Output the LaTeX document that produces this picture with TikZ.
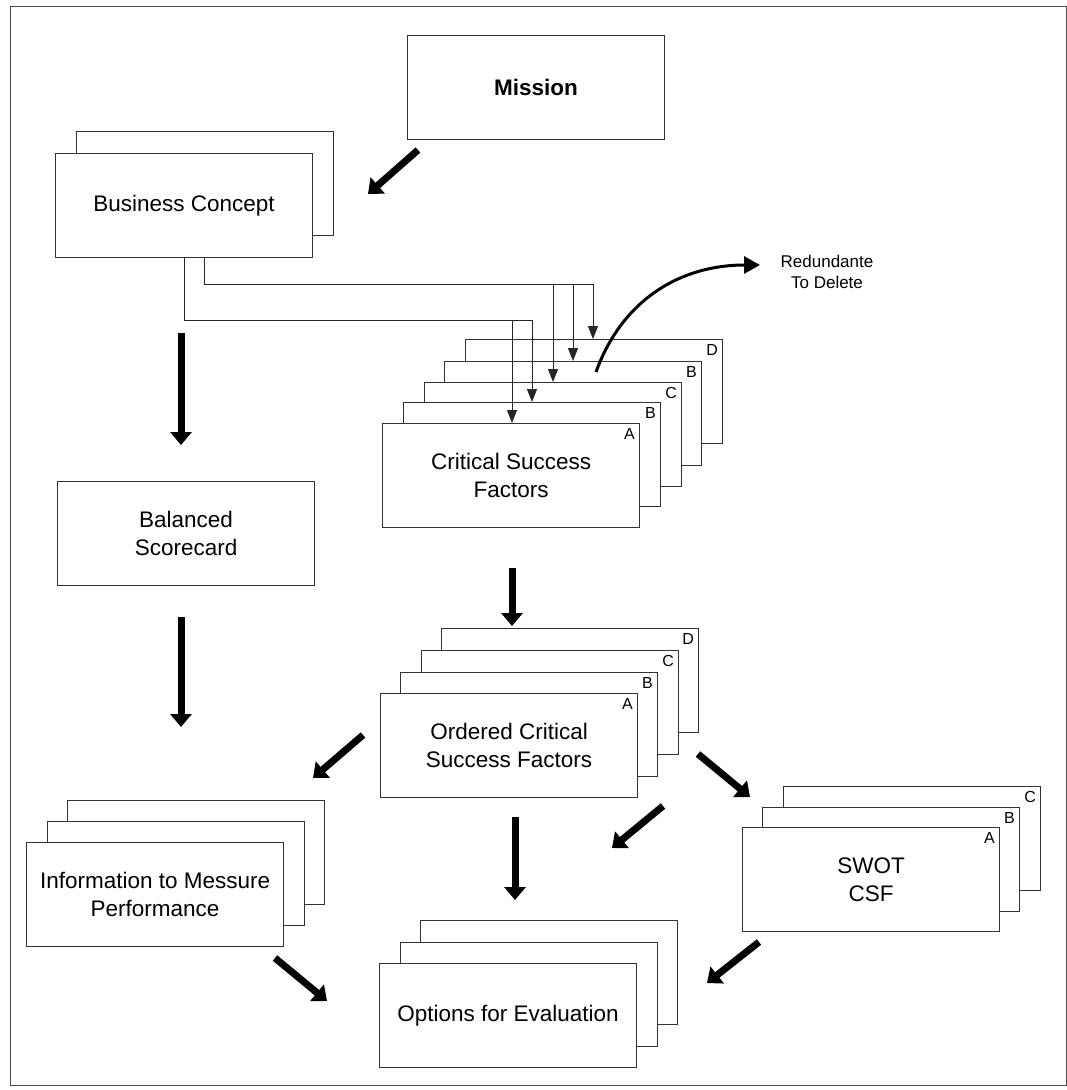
\documentclass[tikz,border=0pt]{standalone}
\usepackage{fontspec}
\setmainfont{Liberation Sans}
\usetikzlibrary{arrows.meta,calc}
\begin{document}
\begin{tikzpicture}[x=1pt,y=-1pt,
  card/.style={draw=black!80, line width=1.1pt, fill=white, minimum width=257pt,
    minimum height=104pt, inner sep=0pt, anchor=north west, align=center,
    font=\fontsize{22.5}{27.5}\selectfont},
  tag/.style={anchor=north east, inner sep=0pt, font=\fontsize{16}{16}\selectfont},
  bigarrow/.style={line width=7pt, -{Triangle[width=21pt,length=13pt]}},
  conn/.style={line width=1pt, draw=black!85, -{Triangle[width=10pt,length=13pt]}},
]
\useasboundingbox (0,0) rectangle (1067,1090);
\fill[white] (0,0) rectangle (1067,1090);
\draw[line width=1pt, black!70] (10,6) rectangle (1066,1085);

% Mission
\node[card, font=\bfseries\fontsize{22.5}{27.5}\selectfont] (mission) at (407,35) {Mission};

% Business concept (two sheets)
\node[card] (bc2) at (76,131) {};
\node[card] (bc) at (55,153) {Business Concept};

% Balanced scorecard
\node[card] (bsc) at (57,481) {Balanced\\Scorecard};

% Critical success factors (five sheets)
\node[card] (csf5) at (465,339) {};
\node[tag] (csf5t) at ($(csf5.north east)+(-5,5)$) {D};
\node[card] (csf4) at (444,361) {};
\node[tag] (csf4t) at ($(csf4.north east)+(-5,5)$) {B};
\node[card] (csf3) at (424,382) {};
\node[tag] (csf3t) at ($(csf3.north east)+(-5,5)$) {C};
\node[card] (csf2) at (403,402) {};
\node[tag] (csf2t) at ($(csf2.north east)+(-5,5)$) {B};
\node[card] (csf1) at (382,423) {Critical Success\\Factors};
\node[tag] (csf1t) at ($(csf1.north east)+(-5,5)$) {A};

% Ordered critical success factors (four sheets)
\node[card] (oc4) at (441,628) {};
\node[tag] (oc4t) at ($(oc4.north east)+(-5,5)$) {D};
\node[card] (oc3) at (421,650) {};
\node[tag] (oc3t) at ($(oc3.north east)+(-5,5)$) {C};
\node[card] (oc2) at (400,672) {};
\node[tag] (oc2t) at ($(oc2.north east)+(-5,5)$) {B};
\node[card] (oc1) at (380,693) {Ordered Critical\\Success Factors};
\node[tag] (oc1t) at ($(oc1.north east)+(-5,5)$) {A};

% Information to measure performance (three sheets)
\node[card] (inf3) at (67,800) {};
\node[card] (inf2) at (47,821) {};
\node[card] (inf1) at (26,842) {Information to Messure\\Performance};

% SWOT (three sheets)
\node[card] (sw3) at (783,786) {};
\node[tag] (sw3t) at ($(sw3.north east)+(-5,5)$) {C};
\node[card] (sw2) at (762,807) {};
\node[tag] (sw2t) at ($(sw2.north east)+(-5,5)$) {B};
\node[card] (sw1) at (742,827) {SWOT\\CSF};
\node[tag] (sw1t) at ($(sw1.north east)+(-5,5)$) {A};

% Options for evaluation (three sheets)
\node[card] (op3) at (420,920) {};
\node[card] (op2) at (400,942) {};
\node[card] (op1) at (379,963) {Options for Evaluation};

% Thin connectors from the business concept to each CSF sheet
\coordinate (xs1) at (184,0);
\coordinate (xs2) at (204,0);
\coordinate (xa) at (512,0);
\coordinate (xb) at (532,0);
\coordinate (xc) at (553,0);
\coordinate (xd) at (573,0);
\coordinate (xe) at (593,0);
\coordinate (ya) at (0,320);
\coordinate (yb) at (0,284);
\draw[conn] (bc.south -| xs1) |- (xb |- ya) -- (xb |- csf2.north);
\draw[conn] (xa |- ya) -- (xa |- csf1.north);
\draw[conn] (bc.south -| xs2) |- (xe |- yb) -- (xe |- csf5.north);
\draw[conn] (xc |- yb) -- (xc |- csf3.north);
\draw[conn] (xd |- yb) -- (xd |- csf4.north);

% Redundant sheet note
\node[align=center, inner sep=0pt, font=\fontsize{17}{21.5}\selectfont] (red) at (827,272) {Redundante\\To Delete};
\coordinate (cs) at (596,372);
\coordinate (rt) at (760,265);
\draw[line width=3pt, -{Triangle[width=17pt,length=16pt]}] (cs) .. controls (622,300) and (680,265) .. (rt);

% Thick flow arrows
\coordinate (a1s) at (418,150); \coordinate (a1e) at (368,194);
\coordinate (a2s) at (181,333); \coordinate (a2e) at (181,445);
\coordinate (a3s) at (181,617); \coordinate (a3e) at (181,727);
\coordinate (a4s) at (512,568); \coordinate (a4e) at (512,626);
\coordinate (a5s) at (363,735); \coordinate (a5e) at (313,778);
\coordinate (a6s) at (698,754); \coordinate (a6e) at (750,797);
\coordinate (a7s) at (515,817); \coordinate (a7e) at (515,900);
\coordinate (a8s) at (663,806); \coordinate (a8e) at (612,848);
\coordinate (a9s) at (275,958); \coordinate (a9e) at (327,1001);
\coordinate (a10s) at (759,942); \coordinate (a10e) at (707,983);
\draw[bigarrow] (a1s) -- (a1e);
\draw[bigarrow] (a2s) -- (a2e);
\draw[bigarrow] (a3s) -- (a3e);
\draw[bigarrow] (a4s) -- (a4e);
\draw[bigarrow] (a5s) -- (a5e);
\draw[bigarrow] (a6s) -- (a6e);
\draw[bigarrow] (a7s) -- (a7e);
\draw[bigarrow] (a8s) -- (a8e);
\draw[bigarrow] (a9s) -- (a9e);
\draw[bigarrow] (a10s) -- (a10e);
\end{tikzpicture}
\end{document}
